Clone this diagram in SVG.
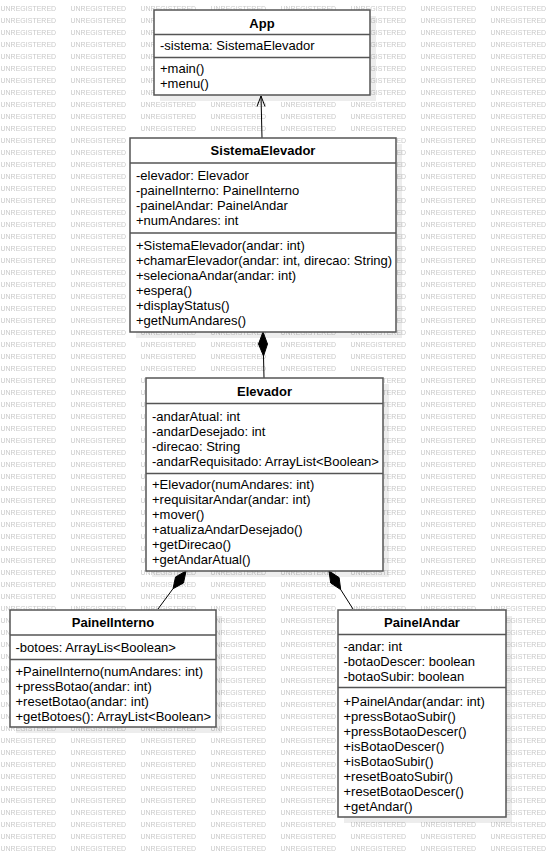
<svg xmlns="http://www.w3.org/2000/svg" width="547" height="858" viewBox="0 0 547 858">
  <defs>
    <style>
      .wm { font-family: "Liberation Sans", Arial, sans-serif; font-size: 7px; fill: #c9c9c9; }
      .box { fill: #ffffff; stroke: #555555; stroke-width: 1.5; }
      .shadow { fill: #000000; fill-opacity: 0.07; }
      .div { stroke: #555555; stroke-width: 1.5; }
      .title { font-family: "Liberation Sans", Arial, sans-serif; font-size: 13px; font-weight: bold; fill: #000; text-anchor: middle; }
      .t { font-family: "Liberation Sans", Arial, sans-serif; font-size: 13px; fill: #000; }
      .edge { stroke: #000; stroke-width: 1; fill: none; }
      .dia { fill: #000; stroke: #000; stroke-width: 1; }
    </style>
    <!-- tiled background label -->
    <pattern id="wmTile" width="70" height="12" patternUnits="userSpaceOnUse">
      <text class="wm" x="0.5" y="11">UNREGISTERED</text>
    </pattern>
  </defs>

  <rect x="0" y="0" width="547" height="858" fill="#ffffff"/>
  <rect x="0" y="0" width="547" height="858" fill="url(#wmTile)"/>

  <!-- connectors -->
  <g id="connectors">
    <!-- SistemaElevador -> App (navigable association) -->
    <line class="edge" x1="262" y1="138" x2="261" y2="96"/>
    <polyline class="edge" points="257,106.5 261,96 265,106.5"/>
    <!-- SistemaElevador composes Elevador -->
    <polygon class="dia" points="263,332 267.5,344 263.5,356 258.5,344"/>
    <line class="edge" x1="263.5" y1="356" x2="264" y2="378"/>
    <!-- Elevador composes PainelInterno -->
    <polygon class="dia" points="186,571 183.5,583 173,588.7 175.5,577"/>
    <line class="edge" x1="173" y1="588.7" x2="158" y2="609"/>
    <!-- Elevador composes PainelAndar -->
    <polygon class="dia" points="329,571 339.1,577.6 340.7,589.6 330.7,583"/>
    <line class="edge" x1="340.7" y1="589.6" x2="353" y2="609"/>
  </g>

  <!-- App -->
  <g id="App">
    <rect class="shadow" x="160" y="16" width="216" height="85"/>
    <rect class="box" x="154" y="10" width="216" height="85"/>
    <line class="div" x1="154" y1="34.5" x2="370" y2="34.5"/>
    <line class="div" x1="154" y1="57.5" x2="370" y2="57.5"/>
    <text class="title" x="262" y="27.5">App</text>
    <text class="t" x="160" y="50">-sistema: SistemaElevador</text>
    <text class="t" x="160" y="73">+main()</text>
    <text class="t" x="160" y="88">+menu()</text>
  </g>

  <!-- SistemaElevador -->
  <g id="SistemaElevador">
    <rect class="shadow" x="136" y="144" width="266" height="194"/>
    <rect class="box" x="130" y="138" width="266" height="194"/>
    <line class="div" x1="130" y1="163" x2="396" y2="163"/>
    <line class="div" x1="130" y1="233" x2="396" y2="233"/>
    <text class="title" x="263" y="155">SistemaElevador</text>
    <text class="t" x="136" y="179.5">-elevador: Elevador</text>
    <text class="t" x="136" y="194.5">-painelInterno: PainelInterno</text>
    <text class="t" x="136" y="209.5">-painelAndar: PainelAndar</text>
    <text class="t" x="136" y="224.5">+numAndares: int</text>
    <text class="t" x="136" y="250">+SistemaElevador(andar: int)</text>
    <text class="t" x="136" y="265">+chamarElevador(andar: int, direcao: String)</text>
    <text class="t" x="136" y="280">+selecionaAndar(andar: int)</text>
    <text class="t" x="136" y="295">+espera()</text>
    <text class="t" x="136" y="310">+displayStatus()</text>
    <text class="t" x="136" y="325">+getNumAndares()</text>
  </g>

  <!-- Elevador -->
  <g id="Elevador">
    <rect class="shadow" x="152" y="384" width="237" height="193"/>
    <rect class="box" x="146" y="378" width="237" height="193"/>
    <line class="div" x1="146" y1="403.5" x2="383" y2="403.5"/>
    <line class="div" x1="146" y1="473.5" x2="383" y2="473.5"/>
    <text class="title" x="264.5" y="395.5">Elevador</text>
    <text class="t" x="152" y="420.5">-andarAtual: int</text>
    <text class="t" x="152" y="435.5">-andarDesejado: int</text>
    <text class="t" x="152" y="450.5">-direcao: String</text>
    <text class="t" x="152" y="465.5">-andarRequisitado: ArrayList&lt;Boolean&gt;</text>
    <text class="t" x="152" y="489">+Elevador(numAndares: int)</text>
    <text class="t" x="152" y="504">+requisitarAndar(andar: int)</text>
    <text class="t" x="152" y="519">+mover()</text>
    <text class="t" x="152" y="534">+atualizaAndarDesejado()</text>
    <text class="t" x="152" y="549">+getDirecao()</text>
    <text class="t" x="152" y="564">+getAndarAtual()</text>
  </g>

  <!-- PainelInterno -->
  <g id="PainelInterno">
    <rect class="shadow" x="16" y="616" width="206" height="117"/>
    <rect class="box" x="10" y="610" width="206" height="117"/>
    <line class="div" x1="10" y1="635" x2="216" y2="635"/>
    <line class="div" x1="10" y1="659.5" x2="216" y2="659.5"/>
    <text class="title" x="113" y="627">PainelInterno</text>
    <text class="t" x="15.5" y="652">-botoes: ArrayLis&lt;Boolean&gt;</text>
    <text class="t" x="15.5" y="675.5">+PainelInterno(numAndares: int)</text>
    <text class="t" x="15.5" y="690.5">+pressBotao(andar: int)</text>
    <text class="t" x="15.5" y="705.5">+resetBotao(andar: int)</text>
    <text class="t" x="15.5" y="720.5">+getBotoes(): ArrayList&lt;Boolean&gt;</text>
  </g>

  <!-- PainelAndar -->
  <g id="PainelAndar">
    <rect class="shadow" x="344" y="616" width="168" height="207"/>
    <rect class="box" x="338" y="610" width="168" height="207"/>
    <line class="div" x1="338" y1="634.5" x2="506" y2="634.5"/>
    <line class="div" x1="338" y1="687.5" x2="506" y2="687.5"/>
    <text class="title" x="422" y="627">PainelAndar</text>
    <text class="t" x="343.5" y="650.5">-andar: int</text>
    <text class="t" x="343.5" y="665.5">-botaoDescer: boolean</text>
    <text class="t" x="343.5" y="680.5">-botaoSubir: boolean</text>
    <text class="t" x="343.5" y="705.5">+PainelAndar(andar: int)</text>
    <text class="t" x="343.5" y="720.5">+pressBotaoSubir()</text>
    <text class="t" x="343.5" y="735.5">+pressBotaoDescer()</text>
    <text class="t" x="343.5" y="750.5">+isBotaoDescer()</text>
    <text class="t" x="343.5" y="765.5">+isBotaoSubir()</text>
    <text class="t" x="343.5" y="780.5">+resetBoatoSubir()</text>
    <text class="t" x="343.5" y="795.5">+resetBotaoDescer()</text>
    <text class="t" x="343.5" y="810.5">+getAndar()</text>
  </g>
</svg>
